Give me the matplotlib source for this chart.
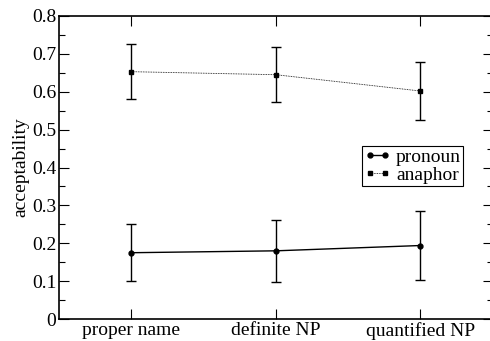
import matplotlib
matplotlib.use("Agg")
import matplotlib.pyplot as plt
from matplotlib.ticker import MultipleLocator

categories = ["proper name", "definite NP", "quantified NP"]
pronoun = [0.175, 0.180, 0.194]
pronoun_err = [0.075, 0.082, 0.090]
anaphor = [0.653, 0.645, 0.602]
anaphor_err = [0.073, 0.073, 0.077]
yticks = [0, 0.1, 0.2, 0.3, 0.4, 0.5, 0.6, 0.7, 0.8]
ytick_labels = ["0", "0.1", "0.2", "0.3", "0.4", "0.5", "0.6", "0.7", "0.8"]

plt.rcParams["font.family"] = ["Liberation Serif", "DejaVu Serif"]

fig = plt.figure(figsize=(4.9, 3.41), dpi=100)
ax = fig.add_axes([59/490, 1 - 319/341, 433.5/490, 303/341])

x = list(range(1, len(categories) + 1))
ax.errorbar(x, pronoun, yerr=pronoun_err, color="black", linestyle="-", linewidth=1.0,
            marker="o", markersize=3.5, capsize=3.5, elinewidth=1.0, capthick=1.0,
            label="pronoun")
ax.errorbar(x, anaphor, yerr=anaphor_err, color="black", linestyle=(0, (1, 1)), linewidth=0.6,
            marker="s", markersize=3.2, capsize=3.5, elinewidth=1.0, capthick=1.0,
            label="anaphor")

ax.set_xlim(0.5, 3.5)
ax.set_ylim(0, 0.8)
ax.set_xticks(x)
ax.set_xticklabels(categories, fontsize=14)
ax.set_yticks(yticks)
ax.set_yticklabels(ytick_labels, fontsize=14)
ax.yaxis.set_minor_locator(MultipleLocator(0.05))
ax.tick_params(axis="both", which="major", direction="in", length=7, width=0.8,
               top=True, right=True, pad=2)
ax.tick_params(axis="y", which="minor", direction="in", length=4, width=0.8, right=True)
ax.set_ylabel("acceptability", fontsize=14, labelpad=2)
for s in ax.spines.values():
    s.set_linewidth(1.2)

handles, labels = ax.get_legend_handles_labels()
handles = [h[0] for h in handles]
leg = ax.legend(handles, labels, loc="upper left",
                bbox_to_anchor=((362 - 59) / 433.5, 1 - (146 - 16) / 303),
                numpoints=2, fontsize=14, frameon=True, fancybox=False, edgecolor="black",
                framealpha=1, borderpad=0.1, handlelength=1.4, handletextpad=0.25,
                labelspacing=0.05, borderaxespad=0)
leg.get_frame().set_linewidth(0.8)

fig.savefig("out.png", dpi=100)
